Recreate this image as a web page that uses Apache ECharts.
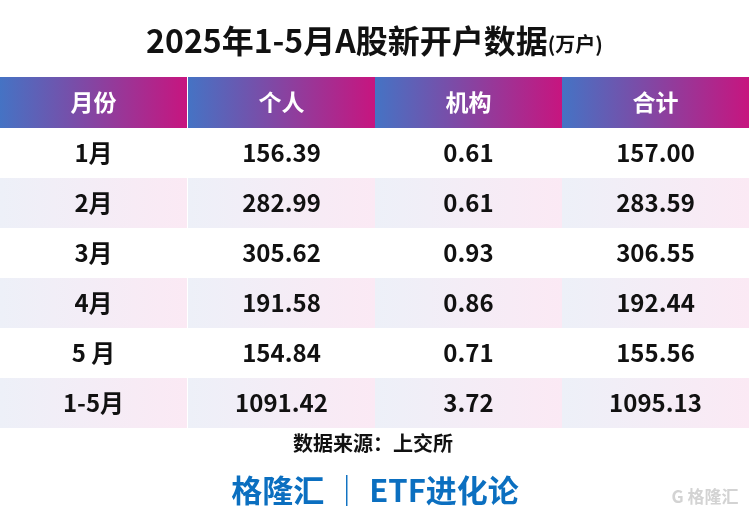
<!DOCTYPE html>
<html>
<head>
<meta charset="utf-8">
<script src="https://cdn.jsdelivr.net/npm/echarts@6/dist/echarts.min.js"></script>
<style>html,body{margin:0;padding:0;background:#fff}#main{width:749px;height:516px}</style>
</head>
<body>
<div id="main"></div>
<script>
var headers = ['月份', '个人', '机构', '合计'];
var months = ['1月', '2月', '3月', '4月', '5 月', '1-5月'];
var personal = ['156.39', '282.99', '305.62', '191.58', '154.84', '1091.42'];
var institution = ['0.61', '0.61', '0.93', '0.86', '0.71', '3.72'];
var total = ['157.00', '283.59', '306.55', '192.44', '155.56', '1095.13'];

var myChart = echarts.init(document.getElementById('main'));
var font = '"Noto Sans CJK SC", "Noto Sans", sans-serif';
var colX = [0, 188, 375, 562], colW = 187;
var headTop = 77, headH = 51, rowH = 50;
var els = [];

function grad(c1, c2) {
  return new echarts.graphic.LinearGradient(0, 0, 1, 0, [
    { offset: 0, color: c1 }, { offset: 1, color: c2 }
  ]);
}

headers.forEach(function (h, i) {
  els.push({ type: 'rect', shape: { x: colX[i], y: headTop, width: colW, height: headH },
    style: { fill: grad('#4573c4', '#c7157f') } });
  els.push({ type: 'text', x: colX[i] + colW / 2, y: headTop + headH / 2,
    style: { text: h, fill: '#fff', font: 'bold 23px ' + font, align: 'center', verticalAlign: 'middle' } });
});

var cols = [months, personal, institution, total];
months.forEach(function (m, r) {
  var y = headTop + headH + r * rowH;
  cols.forEach(function (col, i) {
    if (r % 2 === 1) {
      els.push({ type: 'rect', shape: { x: colX[i], y: y, width: colW, height: rowH },
        style: { fill: grad('#edf0f8', '#fbe9f4') } });
    }
    els.push({ type: 'text', x: colX[i] + colW / 2, y: y + rowH / 2,
      style: { text: col[r], fill: '#111', font: 'bold 24px ' + font, align: 'center', verticalAlign: 'middle' } });
  });
});

els.push({ type: 'text', x: 373, y: 443,
  style: { text: '数据来源：上交所', fill: '#111', font: 'bold 20px ' + font, align: 'center', verticalAlign: 'middle' } });
els.push({ type: 'text', x: 375, y: 490,
  style: { text: '格隆汇 ｜ ETF进化论', fill: '#0b6fc0', font: 'bold 31px ' + font, align: 'center', verticalAlign: 'middle' } });
els.push({ type: 'text', x: 705, y: 497,
  style: { text: 'G 格隆汇', fill: 'rgba(200,200,200,0.8)', font: 'bold 17px ' + font, align: 'center', verticalAlign: 'middle' } });

myChart.setOption({
  title: {
    text: '2025年1-5月A股新开户数据{s|(万户)}', left: 'center', top: 20,
    textStyle: { fontFamily: font, fontSize: 32, fontWeight: 'bold', color: '#111',
      rich: { s: { fontFamily: font, fontSize: 20, fontWeight: 'bold', color: '#111', padding: [6, 0, 0, 0] } } }
  },
  graphic: { elements: els }
});
</script>
</body>
</html>
